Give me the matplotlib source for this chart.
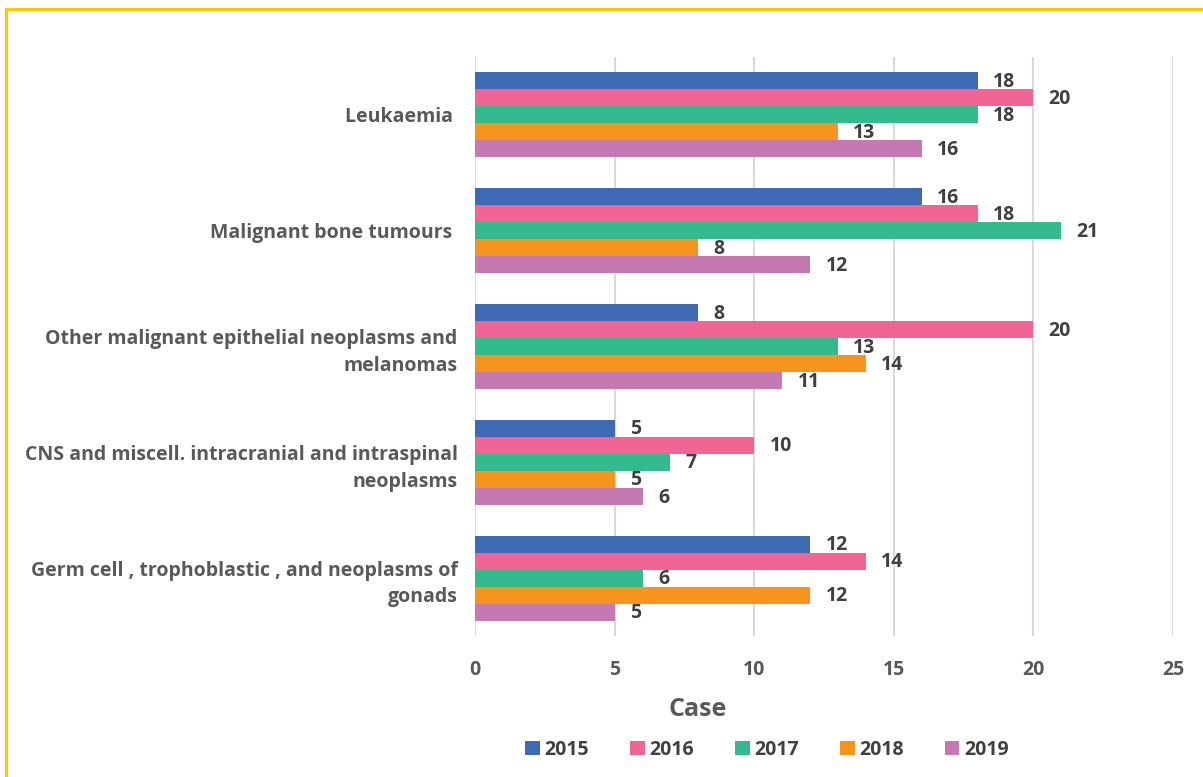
import matplotlib
matplotlib.use("Agg")
import matplotlib.pyplot as plt
import numpy as np
from matplotlib.patches import Patch
from matplotlib.lines import Line2D

categories = [
    "Leukaemia ",
    "Malignant bone tumours ",
    "Other malignant epithelial neoplasms and\nmelanomas",
    "CNS and miscell. intracranial and intraspinal\nneoplasms",
    "Germ cell , trophoblastic , and neoplasms of\ngonads",
]
years = ["2015", "2016", "2017", "2018", "2019"]
v2015 = [18, 16, 8, 5, 12]
v2016 = [20, 18, 20, 10, 14]
v2017 = [18, 21, 13, 7, 6]
v2018 = [13, 8, 14, 5, 12]
v2019 = [16, 12, 11, 6, 5]
series = [v2015, v2016, v2017, v2018, v2019]
colors = ["#3D6AB3", "#F06595", "#33BB8F", "#F7941D", "#C678B0"]
xticks = [0, 5, 10, 15, 20, 25]

FS = 14
plt.rcParams['font.family'] = ['Open Sans', 'DejaVu Sans']
fig = plt.figure(figsize=(12.03, 7.77), dpi=100)
ax = fig.add_axes([475/1203, 1-636/777, (1173-475)/1203, (636-57)/777])

n = len(categories)
y = np.arange(n)
bh = 0.147
for i, (vals, c) in enumerate(zip(series, colors)):
    pos = y - 2*bh + i*bh
    ax.barh(pos, vals, height=bh, color=c, label=years[i], zorder=3)
    for p, v in zip(pos, vals):
        ax.text(v + 0.55, p + 0.01, str(v), va='center', ha='left', fontsize=FS,
                fontweight='bold', color='#404040', zorder=4)

ax.set_ylim(n - 0.5, -0.5)
ax.set_xlim(0, 25)
ax.set_xticks(xticks)
ax.set_xticklabels([str(t) for t in xticks])
ax.set_yticks(y)
ax.set_yticklabels(categories, linespacing=1.45)
ax.tick_params(axis='both', length=0, labelsize=FS, labelcolor='#595959')
ax.tick_params(axis='x', pad=17)
ax.tick_params(axis='y', pad=12.5)
for lab in ax.get_xticklabels() + ax.get_yticklabels():
    lab.set_fontweight('bold')
ax.grid(axis='x', color='#D9D9D9', linewidth=1.5, zorder=0)
for s in ax.spines.values():
    s.set_visible(False)

fig.text(698/1203, 1-710/777, "Case", ha='center', va='center', fontsize=18,
         fontweight='bold', color='#595959')

handles = [Patch(facecolor=c, label=yv) for c, yv in zip(colors, years)]
leg = fig.legend(handles=handles, loc='center', bbox_to_anchor=(767/1203, 1-750/777),
                 ncol=5, frameon=False, fontsize=FS, handlelength=0.75, handleheight=0.75,
                 columnspacing=2.1, handletextpad=0.25)
for t in leg.get_texts():
    t.set_fontweight('bold')
    t.set_color('#404040')

# yellow frame (top and left visible)
fig.add_artist(Line2D([5.5/1203, 1.0], [1-9/777, 1-9/777], color='#FFC800', lw=2.2, transform=fig.transFigure))
fig.add_artist(Line2D([5.5/1203, 5.5/1203], [1-9/777, 0], color='#FFC800', lw=2.2, transform=fig.transFigure))

fig.savefig("out.png", dpi=100)
